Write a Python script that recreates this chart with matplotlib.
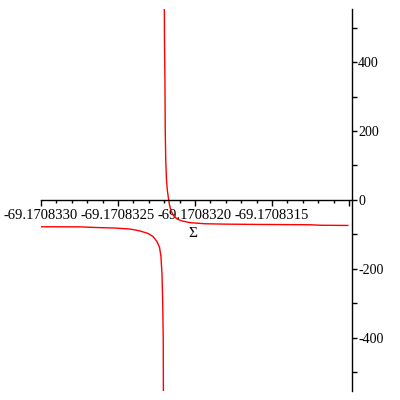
import matplotlib
matplotlib.use("Agg")
import matplotlib.pyplot as plt
from matplotlib.ticker import FixedLocator

plt.rcParams['font.family'] = ['Liberation Serif', 'DejaVu Serif']

# lower-left branch of the curve
x_lower = [-69.170833000, -69.170832747, -69.170832617, -69.170832519, -69.170832422,
           -69.170832357, -69.170832305, -69.170832273, -69.170832247, -69.170832230,
           -69.170832221, -69.170832214, -69.170832210, -69.170832206, -69.170832205]
y_lower = [-77.7, -78.0, -80.3, -81.4, -84.3,
           -89.9, -97.1, -105.8, -120.3, -137.7,
           -163.8, -216.0, -288.4, -404.3, -560.0]

# upper-right branch
x_upper = [-69.170832199, -69.170832198, -69.170832195, -69.170832193, -69.170832190,
           -69.170832185, -69.170832180, -69.170832173, -69.170832166, -69.170832156,
           -69.170832140, -69.170832117, -69.170832084, -69.170832033, -69.170831935,
           -69.170831805, -69.170831578, -69.170831253, -69.170831188, -69.170831007]
y_upper = [560.0, 465.2, 349.3, 204.3, 117.4,
           59.4, 30.4, 7.2, -13.0, -30.4,
           -44.9, -55.1, -60.9, -65.8, -69.0,
           -70.1, -71.0, -71.9, -73.3, -73.9]

xticks = [-69.1708330, -69.1708325, -69.1708320, -69.1708315, -69.1708310]
xticklabels = ["-69.1708330", "-69.1708325", "-69.1708320", "-69.1708315", ""]
xminor = [-69.1708329, -69.1708328, -69.1708327, -69.1708326,
          -69.1708324, -69.1708323, -69.1708322, -69.1708321,
          -69.1708319, -69.1708318, -69.1708317, -69.1708316,
          -69.1708314, -69.1708313, -69.1708312, -69.1708311]
yticks = [-400, -200, 0, 200, 400]
yticklabels = ["-400", "-200", "0", "200", "400"]
yminor = [-500, -300, -100, 100, 300, 500]

fig = plt.figure(figsize=(4, 4), dpi=100)
ax = fig.add_axes([0.1025, 0.0218, 0.7775, 0.9557])

ax.plot(x_lower, y_lower, color='red', linewidth=1.0)
ax.plot(x_upper, y_upper, color='red', linewidth=1.0)

ax.set_xlim(-69.170833, -69.17083098)
ax.set_ylim(-555, 554)

ax.spines['left'].set_visible(False)
ax.spines['top'].set_visible(False)
ax.spines['bottom'].set_position(('data', 0))
ax.spines['bottom'].set_linewidth(1.0)
ax.spines['right'].set_linewidth(1.0)

ax.xaxis.set_major_locator(FixedLocator(xticks))
ax.xaxis.set_minor_locator(FixedLocator(xminor))
ax.set_xticklabels(xticklabels)
ax.tick_params(axis='x', which='major', direction='out', length=4, width=1, pad=2.5, labelsize=10.5)
ax.tick_params(axis='x', which='minor', direction='out', length=2, width=1)

ax.yaxis.tick_right()
ax.yaxis.set_major_locator(FixedLocator(yticks))
ax.yaxis.set_minor_locator(FixedLocator(yminor))
ax.set_yticklabels(yticklabels)
ax.tick_params(axis='y', which='major', direction='out', length=3.5, width=1, pad=1, labelsize=10)
ax.tick_params(axis='y', which='minor', direction='out', length=3.5, width=1)

ax.set_xlabel("Σ", fontsize=11)
ax.xaxis.set_label_coords(0.489, 0.43)

fig.savefig("out.png", dpi=100)
